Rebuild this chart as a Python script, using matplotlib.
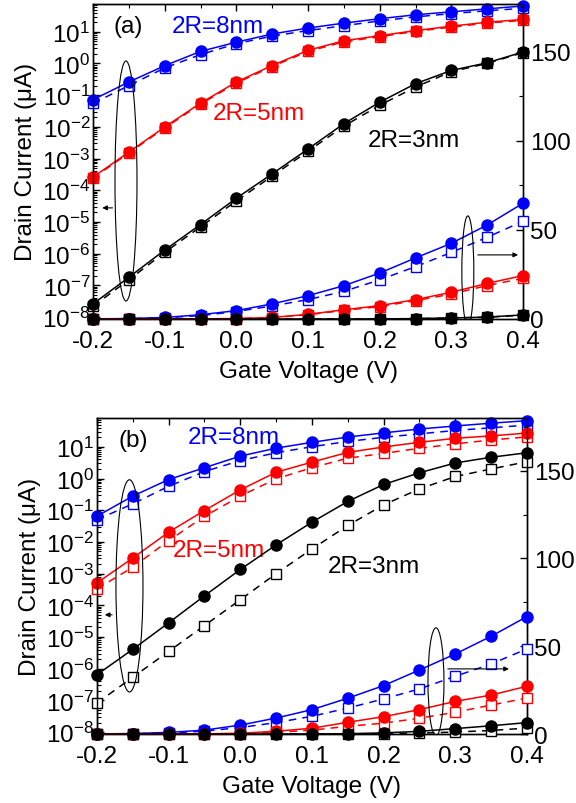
import matplotlib
matplotlib.use("Agg")
import matplotlib.pyplot as plt
from matplotlib.patches import Ellipse
from matplotlib.ticker import LogLocator, MultipleLocator, NullFormatter

plt.rcParams['font.family'] = ['Liberation Sans', 'DejaVu Sans']
plt.rcParams['mathtext.fontset'] = 'custom'
plt.rcParams['mathtext.rm'] = 'Liberation Sans'
plt.rcParams['mathtext.it'] = 'Liberation Sans:italic'
plt.rcParams['mathtext.bf'] = 'Liberation Sans:bold'

# ---------------- data ----------------
V = [-0.2, -0.15, -0.1, -0.05, 0.0, 0.05, 0.1, 0.15, 0.2, 0.25, 0.3, 0.35, 0.4]

# panel (a)
a_8nm_circ = [0.072, 0.26, 0.85, 2.4, 4.7, 8.5, 13.1, 18.7, 25.8, 34.3, 42.5, 52.8, 65.0]
a_8nm_sq = [0.055, 0.2, 0.72, 1.9, 4.2, 7.3, 10.9, 15.5, 22.0, 29.4, 37.4, 45.9, 54.9]
a_5nm_circ = [2.6e-4, 1.6e-3, 9.9e-3, 0.056, 0.26, 0.86, 2.6, 5.2, 7.5, 10.9, 15.0, 20.0, 24.4]
a_5nm_sq = [2.4e-4, 1.5e-3, 9.2e-3, 0.052, 0.24, 0.8, 2.4, 4.8, 7.0, 10.3, 14.0, 18.8, 22.8]
a_3nm_circ = [2.6e-8, 1.8e-7, 1.3e-6, 8.3e-6, 5.6e-5, 3.3e-4, 2.0e-3, 0.0126, 0.06, 0.23, 0.6, 1.05, 2.3]
a_3nm_sq = [2.2e-8, 1.5e-7, 1.1e-6, 7.0e-6, 4.6e-5, 2.8e-4, 1.7e-3, 0.0105, 0.048, 0.18, 0.55, 1.0, 2.2]

# panel (b)
b_8nm_circ = [0.065, 0.28, 0.93, 2.2, 5.1, 9.1, 13.9, 20.4, 27.6, 36.5, 45.6, 55.7, 66.9]
b_8nm_sq = [0.05, 0.16, 0.57, 1.66, 3.7, 6.5, 10.1, 14.8, 20.0, 25.7, 32.9, 39.9, 48.5]
b_5nm_circ = [5.1e-4, 3.1e-3, 0.0204, 0.098, 0.44, 1.58, 3.3, 6.7, 9.9, 13.9, 18.6, 22.2, 27.2]
b_5nm_sq = [3.3e-4, 1.6e-3, 0.011, 0.064, 0.28, 0.98, 2.2, 4.4, 6.2, 9.0, 12.4, 16.5, 20.5]
b_3nm_circ = [6.5e-7, 4.1e-6, 2.8e-5, 2.0e-4, 1.35e-3, 8.1e-3, 0.042, 0.19, 0.65, 1.52, 3.1, 4.7, 6.5]
b_3nm_sq = [8.3e-8, 5.4e-7, 3.5e-6, 2.3e-5, 1.5e-4, 1.0e-3, 6.0e-3, 0.033, 0.148, 0.47, 1.16, 2.0, 3.4]

labels = ["2R=8nm", "2R=5nm", "2R=3nm"]
colors = ["#0000ff", "#ff0000", "#000000"]

FS = 17.5

fig = plt.figure(figsize=(5.76, 8.04), dpi=100)


def style_axes(ax, ax2, ylim_log, ylim_lin):
    ax.set_yscale('log')
    ax.set_xlim(-0.2, 0.4)
    ax.set_ylim(*ylim_log)
    ax2.set_ylim(*ylim_lin)
    ax.xaxis.set_minor_locator(MultipleLocator(0.05))
    ax.set_xticks([-0.2, -0.1, 0.0, 0.1, 0.2, 0.3, 0.4])
    ax.set_xticklabels(["-0.2", "-0.1", "0.0", "0.1", "0.2", "0.3", "0.4"])
    ax.yaxis.set_major_locator(LogLocator(base=10, numticks=20))
    ax.yaxis.set_minor_locator(LogLocator(base=10, subs=range(2, 10), numticks=20))
    ax.yaxis.set_minor_formatter(NullFormatter())
    ax.tick_params(axis='both', which='both', direction='in', top=True, right=False, labelsize=FS)
    ax.tick_params(which='major', length=5, width=1)
    ax.tick_params(which='minor', length=3, width=0.8)
    ax.tick_params(axis='x', which='major', pad=8)
    ax.tick_params(axis='y', which='major', pad=2)
    ax2.yaxis.set_major_locator(MultipleLocator(50))
    ax2.yaxis.set_minor_locator(MultipleLocator(25))
    ax2.tick_params(axis='y', which='both', direction='in', labelsize=FS, pad=5)
    ax2.tick_params(which='major', length=5, width=1)
    ax2.tick_params(which='minor', length=3, width=0.8)
    ax.set_xlabel("Gate Voltage (V)", fontsize=FS, labelpad=6)
    ax.set_ylabel("Drain Current (\u03bcA)", fontsize=FS, labelpad=4)
    for sp in list(ax.spines.values()) + list(ax2.spines.values()):
        sp.set_linewidth(1.0)


def draw_panel(rect, circ, sq, ylim_log, ylim_lin):
    ax = fig.add_axes(rect)
    ax2 = ax.twinx()
    for a in (ax, ax2):
        for c, s, col in zip(circ, sq, colors):
            a.plot(V, s, linestyle=(0, (5, 4)), color=col, lw=1.1, marker='s', ms=6.5,
                   mfc='white', mec=col, mew=1.0, clip_on=False, zorder=3)
            a.plot(V, c, linestyle='-', color=col, lw=1.1, marker='o', ms=8,
                   mfc=col, mec=col, clip_on=False, zorder=4)
    style_axes(ax, ax2, ylim_log, ylim_lin)
    return ax, ax2


# ---------------- panel (a) ----------------
ax_a, ax2_a = draw_panel([0.1615, 0.602, 0.7465, 0.392],
                         [a_8nm_circ, a_5nm_circ, a_3nm_circ],
                         [a_8nm_sq, a_5nm_sq, a_3nm_sq],
                         (8.7e-9, 76), (0, 177))
ax_a.text(0.0465, 0.9095, "(a)", transform=ax_a.transAxes, fontsize=FS, ha='left', va='baseline')
ax_a.text(0.184, 0.912, labels[0], transform=ax_a.transAxes, fontsize=FS, color=colors[0], va='baseline')
ax_a.text(0.279, 0.633, labels[1], transform=ax_a.transAxes, fontsize=FS, color=colors[1], va='baseline')
ax_a.text(0.64, 0.550, labels[2], transform=ax_a.transAxes, fontsize=FS, color=colors[2], va='baseline')
ax2_a.add_patch(Ellipse((-0.154, 77.5), 0.0307, 134.8, fill=False, ec='black', lw=0.8, zorder=5))
ax2_a.annotate("", xy=(-0.191, 62.4), xytext=(-0.169, 62.4),
               arrowprops=dict(arrowstyle='-|>', color='black', lw=0.8, mutation_scale=7))
ax2_a.add_patch(Ellipse((0.323, 27.0), 0.0167, 61.8, fill=False, ec='black', lw=0.8, zorder=5))
ax2_a.annotate("", xy=(0.397, 36.0), xytext=(0.333, 36.0),
               arrowprops=dict(arrowstyle='-|>', color='black', lw=0.8, mutation_scale=7))

# ---------------- panel (b) ----------------
ax_b, ax2_b = draw_panel([0.1684, 0.0858, 0.7465, 0.393],
                         [b_8nm_circ, b_5nm_circ, b_3nm_circ],
                         [b_8nm_sq, b_5nm_sq, b_3nm_sq],
                         (8.7e-9, 81), (0, 180))
ax_b.text(0.049, 0.910, "(b)", transform=ax_b.transAxes, fontsize=FS, ha='left', va='baseline')
ax_b.text(0.2116, 0.921, labels[0], transform=ax_b.transAxes, fontsize=FS, color=colors[0], va='baseline')
ax_b.text(0.177, 0.564, labels[1], transform=ax_b.transAxes, fontsize=FS, color=colors[1], va='baseline')
ax_b.text(0.537, 0.514, labels[2], transform=ax_b.transAxes, fontsize=FS, color=colors[2], va='baseline')
ax2_b.add_patch(Ellipse((-0.1547, 84.4), 0.0377, 120.9, fill=False, ec='black', lw=0.8, zorder=5))
ax2_b.annotate("", xy=(-0.193, 67.9), xytext=(-0.175, 67.9),
               arrowprops=dict(arrowstyle='-|>', color='black', lw=0.8, mutation_scale=7))
ax2_b.add_patch(Ellipse((0.273, 29.7), 0.0223, 61.6, fill=False, ec='black', lw=0.8, zorder=5))
ax2_b.annotate("", xy=(0.3787, 37.1), xytext=(0.2856, 37.1),
               arrowprops=dict(arrowstyle='-|>', color='black', lw=0.8, mutation_scale=7))

fig.savefig("out.png", dpi=100)
